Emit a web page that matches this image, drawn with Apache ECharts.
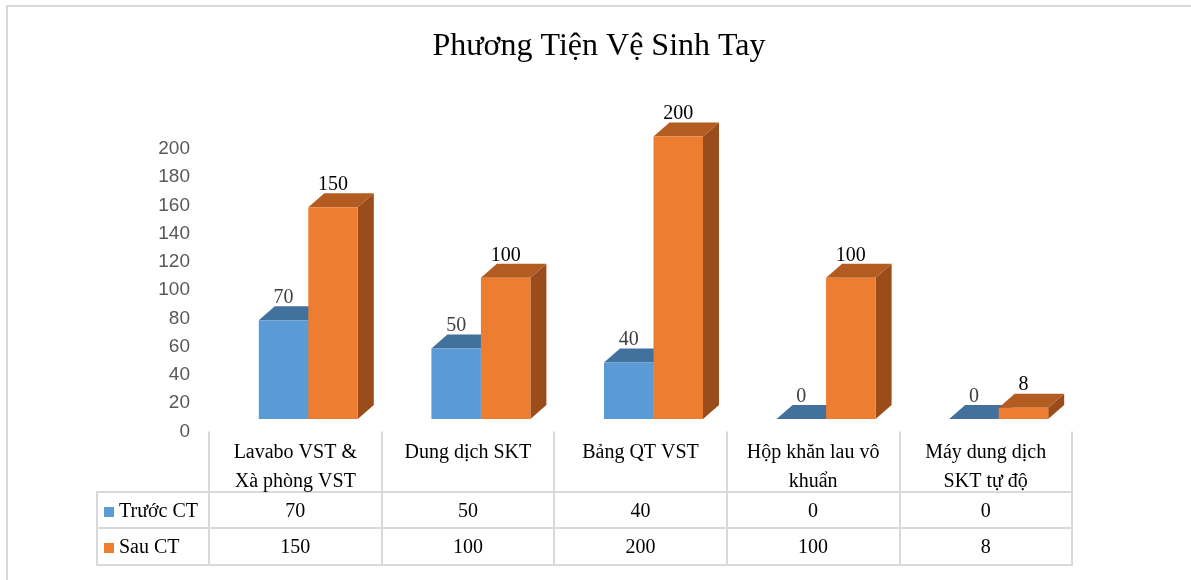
<!DOCTYPE html>
<html>
<head>
<meta charset="utf-8">
<script src="https://cdn.jsdelivr.net/npm/echarts@6/dist/echarts.min.js"></script>
<style>
html,body{margin:0;padding:0;background:#fff;}
#main{width:1191px;height:580px;}
</style>
</head>
<body>
<div id="main"></div>
<script>
const categories = ['Lavabo VST &\nXà phòng VST', 'Dung dịch SKT', 'Bảng QT VST', 'Hộp khăn lau vô\nkhuẩn', 'Máy dung dịch\nSKT tự độ'];
const seriesNames = ['Trước CT', 'Sau CT'];
const truocCT = [70, 50, 40, 0, 0];
const sauCT = [150, 100, 200, 100, 8];
const yMin = 0, yMax = 200, yInterval = 20;

const SERIF = '"Liberation Serif", "Times New Roman", serif';
const SANS = '"Liberation Sans", Arial, sans-serif';
const LIFT = 12.5, DX = 16, DY = 14;

function makeRender(offsetFrac, widthFrac, front, topC, side, labelColor) {
  return function (params, api) {
    const idx = api.value(0), v = api.value(1);
    const base = api.coord([idx, 0]);
    const topP = api.coord([idx, v]);
    const band = api.size([1, 0])[0];
    const w = band * widthFrac;
    const xl = base[0] + offsetFrac * band;
    const xr = xl + w;
    const yb = base[1] - LIFT;
    const yt = topP[1] - LIFT;
    return {
      type: 'group',
      children: [
        { type: 'polygon', shape: { points: [[xr, yt], [xr + DX, yt - DY], [xr + DX, yb - DY], [xr, yb]] }, style: { fill: side } },
        { type: 'polygon', shape: { points: [[xl, yt], [xr, yt], [xr + DX, yt - DY], [xl + DX, yt - DY]] }, style: { fill: topC } },
        { type: 'rect', shape: { x: xl, y: yt, width: w, height: yb - yt }, style: { fill: front } },
        { type: 'text', style: { text: String(v), x: xl + w / 2, y: yt - 22.5, align: 'center', verticalAlign: 'middle', fontSize: 20, fontFamily: SERIF, fill: labelColor } }
      ]
    };
  };
}

const chart = echarts.init(document.getElementById('main'), null, { renderer: 'canvas' });
const lineColor = '#d9d9d9';
const option = {
  backgroundColor: '#ffffff',
  animation: false,
  title: {
    text: 'Phương Tiện Vệ Sinh Tay',
    left: 594, top: 26, textAlign: 'center',
    textStyle: { fontFamily: SERIF, fontSize: 32, fontWeight: 'normal', color: '#000' }
  },
  legend: {
    orient: 'vertical', left: 104, top: 502, padding: 0,
    itemWidth: 10, itemHeight: 10, itemGap: 16,
    data: seriesNames.map(n => ({ name: n, icon: 'rect' })),
    textStyle: { fontFamily: SERIF, fontSize: 20, color: '#000', lineHeight: 20 }
  },
  grid: { left: 209, right: 119, top: 149, bottom: 148.5 },
  xAxis: [
    {
      type: 'category', data: categories, boundaryGap: true,
      axisLine: { show: false },
      axisTick: { show: true, length: 134, lineStyle: { color: lineColor, width: 2 } },
      axisLabel: { margin: 7, interval: 0, fontFamily: SERIF, fontSize: 20, color: '#000', lineHeight: 29, verticalAlign: 'top' }
    },
    {
      type: 'category', data: truocCT.map(String), position: 'bottom', offset: 62,
      axisLine: { show: false }, axisTick: { show: false },
      axisLabel: { margin: 8.5, interval: 0, fontFamily: SERIF, fontSize: 20, color: '#000', lineHeight: 20, verticalAlign: 'top' }
    },
    {
      type: 'category', data: sauCT.map(String), position: 'bottom', offset: 98,
      axisLine: { show: false }, axisTick: { show: false },
      axisLabel: { margin: 8.5, interval: 0, fontFamily: SERIF, fontSize: 20, color: '#000', lineHeight: 20, verticalAlign: 'top' }
    }
  ],
  yAxis: {
    type: 'value', min: yMin, max: yMax, interval: yInterval,
    axisLine: { show: false }, axisTick: { show: false }, splitLine: { show: false },
    axisLabel: { margin: 19, fontFamily: SANS, fontSize: 19, color: '#595959' }
  },
  series: [
    {
      name: seriesNames[0], type: 'custom', xAxisIndex: 0,
      itemStyle: { color: '#5b9bd5' },
      renderItem: makeRender(-36.5 / 172.6, 49.5 / 172.6, '#5b9bd5', '#41719c', '#3a6a94', '#404040'),
      data: truocCT.map((v, i) => [i, v]),
      encode: { x: 0, y: 1 }
    },
    {
      name: seriesNames[1], type: 'custom', xAxisIndex: 0,
      itemStyle: { color: '#ed7d31' },
      renderItem: makeRender(13 / 172.6, 49.5 / 172.6, '#ed7d31', '#b35c21', '#9b4c1b', '#000000'),
      data: sauCT.map((v, i) => [i, v]),
      encode: { x: 0, y: 1 }
    }
  ],
  graphic: [
    { type: 'rect', shape: { x: 7, y: 6, width: 1300, height: 700 }, style: { fill: 'none', stroke: lineColor, lineWidth: 2 }, silent: true, z: -1 },
    { type: 'line', shape: { x1: 97, y1: 492, x2: 1073, y2: 492 }, style: { stroke: lineColor, lineWidth: 2 } },
    { type: 'line', shape: { x1: 97, y1: 528, x2: 1073, y2: 528 }, style: { stroke: lineColor, lineWidth: 2 } },
    { type: 'line', shape: { x1: 97, y1: 565, x2: 1073, y2: 565 }, style: { stroke: lineColor, lineWidth: 2 } },
    { type: 'line', shape: { x1: 97, y1: 491, x2: 97, y2: 566 }, style: { stroke: lineColor, lineWidth: 2 } }
  ]
};
chart.setOption(option);
</script>
</body>
</html>
